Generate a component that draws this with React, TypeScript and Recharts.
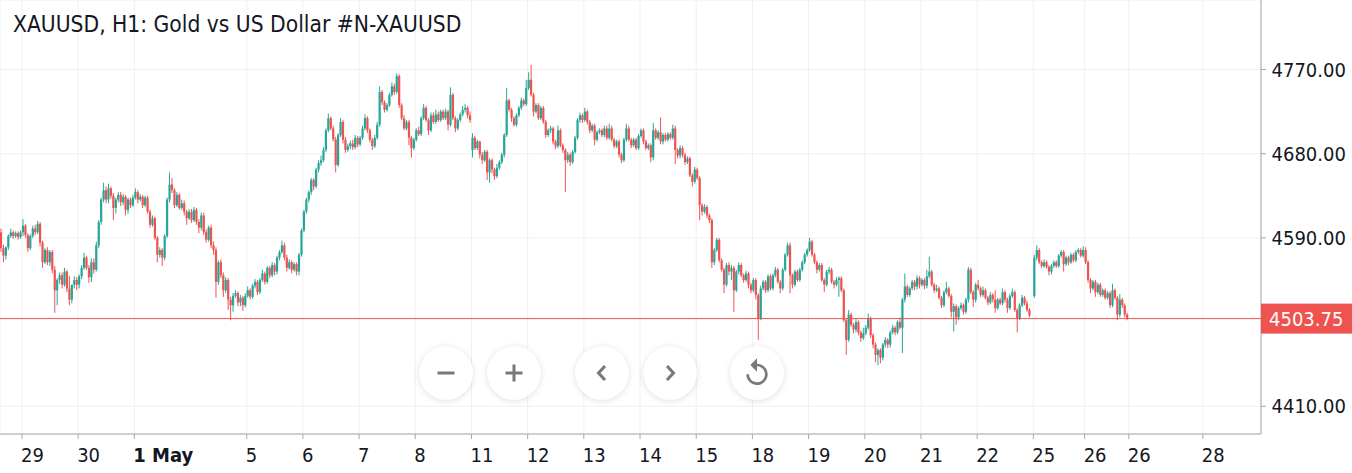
import React from 'react';
import { ComposedChart, Bar, XAxis, YAxis, CartesianGrid, ReferenceLine } from 'recharts';

// hourly candles, [open, high, low, close], one array per trading day
const d0428 = [[4596,4600,4575,4579],[4579,4583,4564,4571],[4571,4581,4567,4580],[4580,4594,4577,4592],[4592,4600,4590,4596],[4596,4598,4589,4592],[4592,4597,4590,4595],[4595,4597,4588,4591],[4591,4598,4589,4596]];
const d0429 = [[4596,4610,4592,4603],[4603,4605,4590,4593],[4593,4595,4575,4579],[4579,4594,4577,4592],[4592,4603,4590,4600],[4600,4604,4593,4596],[4596,4608,4594,4605],[4605,4607,4581,4585],[4585,4587,4558,4564],[4564,4579,4562,4577],[4577,4580,4561,4564],[4564,4577,4560,4575],[4575,4577,4552,4556],[4556,4560,4510,4534],[4534,4547,4518,4545],[4545,4553,4541,4550],[4550,4553,4536,4540],[4540,4558,4538,4554],[4554,4556,4532,4536],[4536,4549,4518,4524],[4524,4540,4520,4540],[4540,4549,4536,4545],[4545,4548,4534,4540]];
const d0430 = [[4540,4551,4536,4549],[4549,4561,4546,4558],[4558,4574,4556,4569],[4569,4571,4556,4558],[4558,4561,4542,4548],[4548,4568,4543,4564],[4564,4568,4552,4556],[4556,4586,4554,4582],[4582,4609,4579,4607],[4607,4633,4604,4631],[4631,4649,4628,4641],[4641,4645,4627,4631],[4631,4648,4627,4643],[4643,4645,4632,4635],[4635,4638,4609,4622],[4622,4633,4616,4631],[4631,4639,4628,4636],[4636,4639,4624,4628],[4628,4637,4625,4634],[4634,4636,4614,4620],[4620,4633,4616,4631],[4631,4633,4622,4625],[4625,4636,4623,4633]];
const d0501 = [[4633,4643,4631,4639],[4639,4641,4627,4631],[4631,4637,4629,4634],[4634,4636,4622,4625],[4625,4635,4623,4633],[4633,4635,4616,4618],[4618,4620,4601,4604],[4604,4614,4602,4611],[4611,4613,4588,4590],[4590,4592,4564,4572],[4572,4580,4569,4577],[4577,4579,4560,4569],[4569,4594,4566,4592],[4592,4633,4590,4631],[4631,4660,4628,4647],[4647,4654,4638,4641],[4641,4643,4622,4625],[4625,4639,4623,4636],[4636,4638,4620,4622],[4622,4631,4620,4627],[4627,4630,4614,4618],[4618,4620,4604,4611],[4611,4621,4609,4618]];
const d0504 = [[4618,4621,4606,4609],[4609,4623,4607,4620],[4620,4622,4604,4607],[4607,4610,4595,4601],[4601,4617,4598,4614],[4614,4617,4593,4596],[4596,4599,4585,4588],[4588,4603,4586,4601],[4601,4604,4579,4582],[4582,4586,4572,4577],[4577,4580,4526,4543],[4543,4566,4540,4564],[4564,4567,4547,4550],[4550,4553,4527,4534],[4534,4548,4531,4545],[4545,4547,4513,4524],[4524,4527,4502,4518],[4518,4531,4511,4528],[4528,4534,4526,4531],[4531,4533,4517,4521],[4521,4529,4517,4526],[4526,4528,4512,4518],[4518,4531,4516,4528]];
const d0505 = [[4528,4538,4526,4534],[4534,4536,4524,4527],[4527,4541,4525,4539],[4539,4546,4536,4543],[4543,4545,4529,4532],[4532,4547,4530,4545],[4545,4556,4543,4552],[4552,4554,4540,4543],[4543,4560,4541,4558],[4558,4560,4547,4550],[4550,4564,4548,4561],[4561,4563,4550,4554],[4554,4571,4551,4569],[4569,4577,4566,4575],[4575,4587,4573,4582],[4582,4585,4566,4569],[4569,4572,4554,4558],[4558,4567,4556,4564],[4564,4566,4552,4556],[4556,4564,4554,4562],[4562,4564,4550,4554],[4554,4574,4550,4572],[4572,4600,4570,4598]];
const d0506 = [[4598,4620,4596,4618],[4618,4633,4616,4631],[4631,4641,4628,4639],[4639,4654,4636,4652],[4652,4654,4641,4645],[4645,4665,4643,4663],[4663,4673,4660,4670],[4670,4678,4667,4673],[4673,4687,4671,4684],[4684,4707,4682,4705],[4705,4723,4703,4718],[4718,4720,4705,4707],[4707,4710,4693,4695],[4695,4698,4660,4668],[4668,4702,4666,4700],[4700,4718,4698,4714],[4714,4716,4691,4695],[4695,4698,4681,4684],[4684,4691,4682,4688],[4688,4694,4685,4691],[4691,4695,4684,4687],[4687,4700,4685,4697],[4697,4699,4687,4690]];
const d0507 = [[4690,4699,4688,4697],[4697,4710,4695,4707],[4707,4722,4705,4718],[4718,4720,4702,4705],[4705,4707,4692,4695],[4695,4697,4684,4688],[4688,4700,4686,4697],[4697,4714,4695,4711],[4711,4752,4709,4746],[4746,4748,4732,4735],[4735,4737,4724,4727],[4727,4734,4725,4732],[4732,4745,4730,4743],[4743,4756,4741,4752],[4752,4755,4743,4746],[4746,4766,4744,4763],[4763,4765,4729,4732],[4732,4734,4716,4718],[4718,4721,4705,4707],[4707,4716,4705,4714],[4714,4716,4689,4697],[4697,4699,4676,4686],[4686,4697,4684,4695]];
const d0508 = [[4695,4707,4693,4705],[4705,4709,4699,4701],[4701,4720,4699,4718],[4718,4733,4716,4729],[4729,4731,4714,4716],[4716,4718,4700,4705],[4705,4724,4703,4721],[4721,4724,4712,4714],[4714,4727,4712,4722],[4722,4725,4714,4716],[4716,4727,4714,4725],[4725,4727,4716,4718],[4718,4728,4716,4725],[4725,4727,4705,4711],[4711,4751,4709,4743],[4743,4745,4716,4718],[4718,4720,4703,4707],[4707,4718,4705,4716],[4716,4724,4714,4722],[4722,4731,4720,4727],[4727,4733,4724,4729],[4729,4731,4718,4721],[4721,4725,4713,4716]];
const d0511 = [[4684,4702,4676,4697],[4697,4699,4684,4686],[4686,4695,4684,4693],[4693,4694,4675,4679],[4679,4682,4669,4673],[4673,4684,4671,4682],[4682,4684,4652,4660],[4660,4675,4649,4673],[4673,4675,4659,4663],[4663,4665,4652,4656],[4656,4669,4654,4665],[4665,4673,4663,4671],[4671,4681,4669,4679],[4679,4702,4676,4700],[4700,4750,4698,4737],[4737,4739,4725,4727],[4727,4729,4714,4718],[4718,4720,4709,4711],[4711,4723,4709,4721],[4721,4731,4719,4729],[4729,4740,4727,4737],[4737,4739,4731,4733],[4733,4759,4731,4750]];
const d0512 = [[4750,4767,4748,4759],[4759,4775,4741,4743],[4743,4745,4720,4725],[4725,4734,4723,4732],[4732,4734,4716,4718],[4718,4731,4716,4729],[4729,4731,4712,4714],[4714,4716,4697,4700],[4700,4707,4698,4705],[4705,4710,4702,4707],[4707,4709,4690,4693],[4693,4695,4685,4688],[4688,4710,4686,4705],[4705,4707,4687,4689],[4689,4691,4681,4684],[4684,4686,4639,4673],[4673,4682,4670,4679],[4679,4681,4667,4671],[4671,4684,4669,4682],[4682,4699,4680,4697],[4697,4718,4695,4716],[4716,4724,4713,4721],[4721,4723,4713,4716]];
const d0513 = [[4716,4729,4714,4725],[4725,4727,4711,4714],[4714,4716,4702,4705],[4705,4712,4703,4710],[4710,4712,4689,4695],[4695,4705,4693,4703],[4703,4707,4701,4705],[4705,4707,4698,4700],[4700,4710,4698,4707],[4707,4710,4695,4697],[4697,4712,4695,4707],[4707,4710,4693,4695],[4695,4697,4686,4688],[4688,4695,4686,4693],[4693,4695,4676,4679],[4679,4681,4670,4673],[4673,4697,4671,4695],[4695,4712,4693,4707],[4707,4710,4693,4695],[4695,4697,4686,4689],[4689,4697,4687,4695],[4695,4697,4684,4686],[4686,4701,4684,4699]];
const d0514 = [[4699,4707,4697,4705],[4705,4707,4690,4693],[4693,4695,4684,4686],[4686,4691,4684,4689],[4689,4691,4671,4676],[4676,4713,4673,4705],[4705,4707,4695,4697],[4697,4705,4695,4703],[4703,4719,4690,4693],[4693,4702,4690,4700],[4700,4702,4693,4695],[4695,4703,4693,4701],[4701,4703,4695,4697],[4697,4711,4695,4707],[4707,4710,4669,4684],[4684,4686,4675,4678],[4678,4689,4675,4686],[4686,4688,4676,4679],[4679,4681,4668,4671],[4671,4677,4669,4675],[4675,4677,4655,4657],[4657,4659,4645,4650],[4650,4666,4648,4663]];
const d0515 = [[4663,4665,4652,4654],[4654,4656,4609,4625],[4625,4627,4614,4618],[4618,4626,4616,4623],[4623,4625,4611,4614],[4614,4616,4606,4609],[4609,4611,4558,4564],[4564,4579,4561,4577],[4577,4590,4575,4588],[4588,4590,4564,4566],[4566,4568,4554,4556],[4556,4558,4531,4540],[4540,4563,4538,4561],[4561,4564,4550,4554],[4554,4561,4545,4558],[4558,4560,4511,4534],[4534,4556,4532,4554],[4554,4564,4551,4561],[4561,4563,4548,4550],[4550,4552,4542,4545],[4545,4555,4543,4552],[4552,4554,4536,4540],[4540,4542,4531,4534]];
const d0518 = [[4534,4547,4532,4545],[4545,4547,4524,4529],[4529,4531,4481,4504],[4504,4539,4502,4536],[4536,4545,4534,4543],[4543,4545,4531,4534],[4534,4551,4532,4549],[4549,4551,4534,4536],[4536,4552,4534,4550],[4550,4559,4548,4556],[4556,4558,4541,4543],[4543,4545,4531,4536],[4536,4558,4534,4556],[4556,4574,4554,4572],[4572,4585,4570,4582],[4582,4585,4531,4550],[4550,4552,4536,4540],[4540,4556,4538,4554],[4554,4556,4543,4545],[4545,4558,4543,4556],[4556,4566,4554,4564],[4564,4574,4562,4572],[4572,4579,4570,4577]];
const d0519 = [[4577,4590,4575,4586],[4586,4588,4570,4572],[4572,4574,4562,4564],[4564,4566,4552,4556],[4556,4563,4554,4561],[4561,4563,4543,4545],[4545,4547,4532,4540],[4540,4556,4538,4554],[4554,4559,4551,4556],[4556,4558,4541,4543],[4543,4545,4536,4540],[4540,4548,4538,4545],[4545,4549,4527,4547],[4547,4549,4532,4534],[4534,4536,4500,4502],[4502,4504,4465,4481],[4481,4513,4479,4508],[4508,4510,4495,4497],[4497,4499,4488,4492],[4492,4504,4489,4500],[4500,4502,4486,4489],[4489,4491,4479,4483],[4483,4494,4481,4488]];
const d0520 = [[4488,4497,4486,4494],[4494,4509,4492,4504],[4504,4506,4483,4486],[4486,4488,4472,4476],[4476,4478,4457,4465],[4465,4472,4454,4470],[4470,4472,4456,4462],[4462,4478,4459,4476],[4476,4484,4473,4481],[4481,4483,4472,4476],[4476,4491,4473,4489],[4489,4497,4487,4494],[4494,4496,4486,4489],[4489,4502,4487,4500],[4500,4505,4492,4494],[4494,4526,4467,4524],[4524,4552,4521,4538],[4538,4540,4527,4529],[4529,4538,4527,4536],[4536,4545,4534,4543],[4543,4545,4534,4538],[4538,4550,4535,4547],[4547,4549,4536,4540]];
const d0521 = [[4540,4547,4538,4545],[4545,4547,4535,4539],[4539,4556,4536,4549],[4549,4570,4547,4554],[4554,4556,4538,4540],[4540,4542,4531,4534],[4534,4540,4532,4536],[4536,4538,4524,4526],[4526,4528,4515,4518],[4518,4534,4516,4532],[4532,4543,4530,4536],[4536,4538,4526,4528],[4528,4530,4505,4511],[4511,4520,4490,4517],[4517,4519,4497,4505],[4505,4517,4502,4515],[4515,4521,4513,4518],[4518,4520,4508,4511],[4511,4526,4509,4524],[4524,4559,4521,4556],[4556,4558,4530,4532],[4532,4534,4516,4524],[4524,4542,4521,4540]];
const d0522 = [[4540,4545,4534,4536],[4536,4538,4527,4529],[4529,4538,4527,4534],[4534,4536,4524,4526],[4526,4528,4518,4521],[4521,4532,4519,4529],[4529,4531,4521,4524],[4524,4534,4510,4515],[4515,4526,4513,4524],[4524,4526,4518,4520],[4520,4536,4518,4532],[4532,4534,4521,4524],[4524,4526,4510,4515],[4515,4530,4513,4528],[4528,4536,4526,4532],[4532,4534,4511,4513],[4513,4515,4489,4504],[4504,4520,4502,4518],[4518,4529,4516,4526],[4526,4528,4518,4520],[4520,4523,4511,4513],[4513,4515,4505,4507]];
const d0525 = [[4528,4572,4526,4569],[4569,4582,4566,4577],[4577,4579,4562,4564],[4564,4566,4558,4560],[4560,4567,4558,4564],[4564,4566,4557,4559],[4559,4561,4550,4554],[4554,4562,4551,4560],[4560,4566,4558,4564],[4564,4566,4558,4560],[4560,4573,4558,4571],[4571,4577,4569,4575],[4575,4577,4554,4562],[4562,4571,4560,4569],[4569,4571,4561,4564],[4564,4574,4562,4572],[4572,4574,4564,4566],[4566,4577,4564,4575],[4575,4579,4573,4577],[4577,4579,4569,4571],[4571,4581,4569,4577]];
const d0526 = [[4577,4580,4562,4564],[4564,4566,4542,4545],[4545,4547,4531,4536],[4536,4545,4534,4543],[4543,4545,4527,4532],[4532,4542,4530,4540],[4540,4542,4527,4529],[4529,4536,4527,4534],[4534,4536,4524,4526],[4526,4533,4524,4531],[4531,4533,4515,4518],[4518,4541,4516,4534],[4534,4536,4524,4526],[4526,4528,4502,4508],[4508,4530,4505,4524],[4524,4526,4515,4518],[4518,4520,4505,4508],[4508,4510,4502,4503.75]];

const days = [d0428, d0429, d0430, d0501, d0504, d0505, d0506, d0507, d0508, d0511, d0512, d0513, d0514, d0515, d0518, d0519, d0520, d0521, d0522, d0525, d0526];
// bar slot where each day begins
const dayStarts = [0, 9, 32, 55, 78, 101, 124, 147, 170, 193, 216, 239, 262, 285, 308, 331, 354, 377, 400, 423, 444];

const tickPositions = [9, 32, 55, 101, 124, 147, 170, 193, 216, 239, 262, 285, 308, 331, 354, 377, 400, 423, 444, 462.1, 492.4];
const tickLabels = ['29', '30', '1 May', '5', '6', '7', '8', '11', '12', '13', '14', '15', '18', '19', '20', '21', '22', '25', '26', '26', '28'];
const priceTicks = [4410, 4503.75, 4590, 4680, 4770];
const lastPrice = 4503.75;

const UP = '#26a69a';
const DOWN = '#ef5350';
const FONT = "'DejaVu Sans Condensed', 'DejaVu Sans', sans-serif";

const bars: any[] = [];
days.forEach((day, d) => {
    day.forEach(([o, h, l, c], j) => {
        bars.push({ x: dayStarts[d] + j + 0.5, o, h, l, c, range: [l, h] });
    });
});

const Candle = (props: any) => {
    const { x, y, width, height, payload } = props;
    if (!payload || payload.range == null) return null;
    const { o, h, l, c } = payload;
    const top = Math.min(y, y + height);
    const hh = Math.abs(height);
    const k = hh / (h - l);
    const cx = x + width / 2;
    const bTop = top + (h - Math.max(o, c)) * k;
    const bBot = top + (h - Math.min(o, c)) * k;
    const color = c >= o ? UP : DOWN;
    return (
        <g>
            <line x1={cx} x2={cx} y1={top} y2={top + hh} stroke={color} strokeWidth={1} />
            <rect x={cx - 1.1} y={bTop} width={2.2} height={Math.max(1, bBot - bTop)} fill={color} />
        </g>
    );
};

const XTick = ({ x, payload }: any) => {
    const idx = tickPositions.indexOf(payload.value);
    const label = tickLabels[idx];
    return (
        <text x={x - 1} y={462} textAnchor="start" fontFamily={FONT} fontSize={20}
            fontWeight={label === '1 May' ? 'bold' : 'normal'} fill="#131722" style={{ fontStretch: 'condensed' }}>
            {label}
        </text>
    );
};

const YTick = ({ y, payload }: any) => {
    if (payload.value === lastPrice) {
        return (
            <g>
                <rect x={1261} y={y - 15} width={91} height={30} fill={DOWN} />
                <text x={1269} y={y + 7} fontFamily={FONT} fontSize={20} fill="#ffffff" style={{ fontStretch: 'condensed' }}>
                    {lastPrice.toFixed(2)}
                </text>
            </g>
        );
    }
    return (
        <text x={1271.5} y={y + 7} fontFamily={FONT} fontSize={20} fill="#131722" style={{ fontStretch: 'condensed' }}>
            {payload.value.toFixed(2)}
        </text>
    );
};

const Icon = ({ kind }: { kind: string }) => {
    const g = '#787878';
    if (kind === 'minus') return <svg width={24} height={24}><rect x={3.5} y={10.5} width={17} height={3} fill={g} /></svg>;
    if (kind === 'plus') return (
        <svg width={24} height={24}>
            <rect x={3.5} y={10.5} width={17} height={3} fill={g} />
            <rect x={10.5} y={3.5} width={3} height={17} fill={g} />
        </svg>
    );
    if (kind === 'left') return <svg width={24} height={24}><polyline points="15,5 8.5,12 15,19" fill="none" stroke={g} strokeWidth={3} /></svg>;
    if (kind === 'right') return <svg width={24} height={24}><polyline points="9,5 15.5,12 9,19" fill="none" stroke={g} strokeWidth={3} /></svg>;
    return (
        <svg width={32} height={32} viewBox="0 0 24 24">
            <path fill={g} d="M12 5V1L7 6l5 5V7c3.31 0 6 2.69 6 6s-2.69 6-6 6-6-2.69-6-6H4c0 4.42 3.58 8 8 8s8-3.58 8-8-3.58-8-8-8z" />
        </svg>
    );
};

const navButtons = [
    { cx: 446, kind: 'minus' },
    { cx: 514, kind: 'plus' },
    { cx: 602, kind: 'left' },
    { cx: 670, kind: 'right' },
    { cx: 757, kind: 'reset' },
];

export default function App() {
    return (
        <div style={{ position: 'absolute', left: 0, top: 0, width: 1352, height: 473, background: '#ffffff' }}>
            <ComposedChart width={1352} height={473} data={bars} margin={{ top: 0, right: 0, bottom: 0, left: 0 }}>
                <CartesianGrid stroke="#f0f0f0" />
                <XAxis dataKey="x" type="number" domain={[0, 516.2]} allowDataOverflow ticks={tickPositions} interval={0}
                    height={39} tick={<XTick />} tickSize={5} stroke="#a8a8a8" />
                <YAxis orientation="right" type="number" domain={[4380.4, 4844.3]} allowDataOverflow ticks={priceTicks}
                    interval={0} width={91} tick={<YTick />} tickSize={5} stroke="#a8a8a8" />
                <ReferenceLine y={lastPrice} stroke={DOWN} strokeWidth={1} />
                <Bar dataKey="range" barSize={2} shape={<Candle />} isAnimationActive={false} />
            </ComposedChart>
            <svg width={1352} height={60} style={{ position: 'absolute', left: 0, top: 0, pointerEvents: 'none' }}>
                <text x={13} y={31.5} fontFamily={FONT} fontSize={22.6} fill="#131722" style={{ fontStretch: 'condensed' }}>
                    XAUUSD, H1: Gold vs US Dollar #N-XAUUSD
                </text>
            </svg>
            {navButtons.map((b) => (
                <div key={b.kind} style={{
                    position: 'absolute', left: b.cx - 27, top: 373 - 27, width: 54, height: 54, borderRadius: 27,
                    background: '#ffffff', boxShadow: '0 1px 6px rgba(0,0,0,0.13)',
                    display: 'flex', alignItems: 'center', justifyContent: 'center',
                }}>
                    <Icon kind={b.kind} />
                </div>
            ))}
        </div>
    );
}
